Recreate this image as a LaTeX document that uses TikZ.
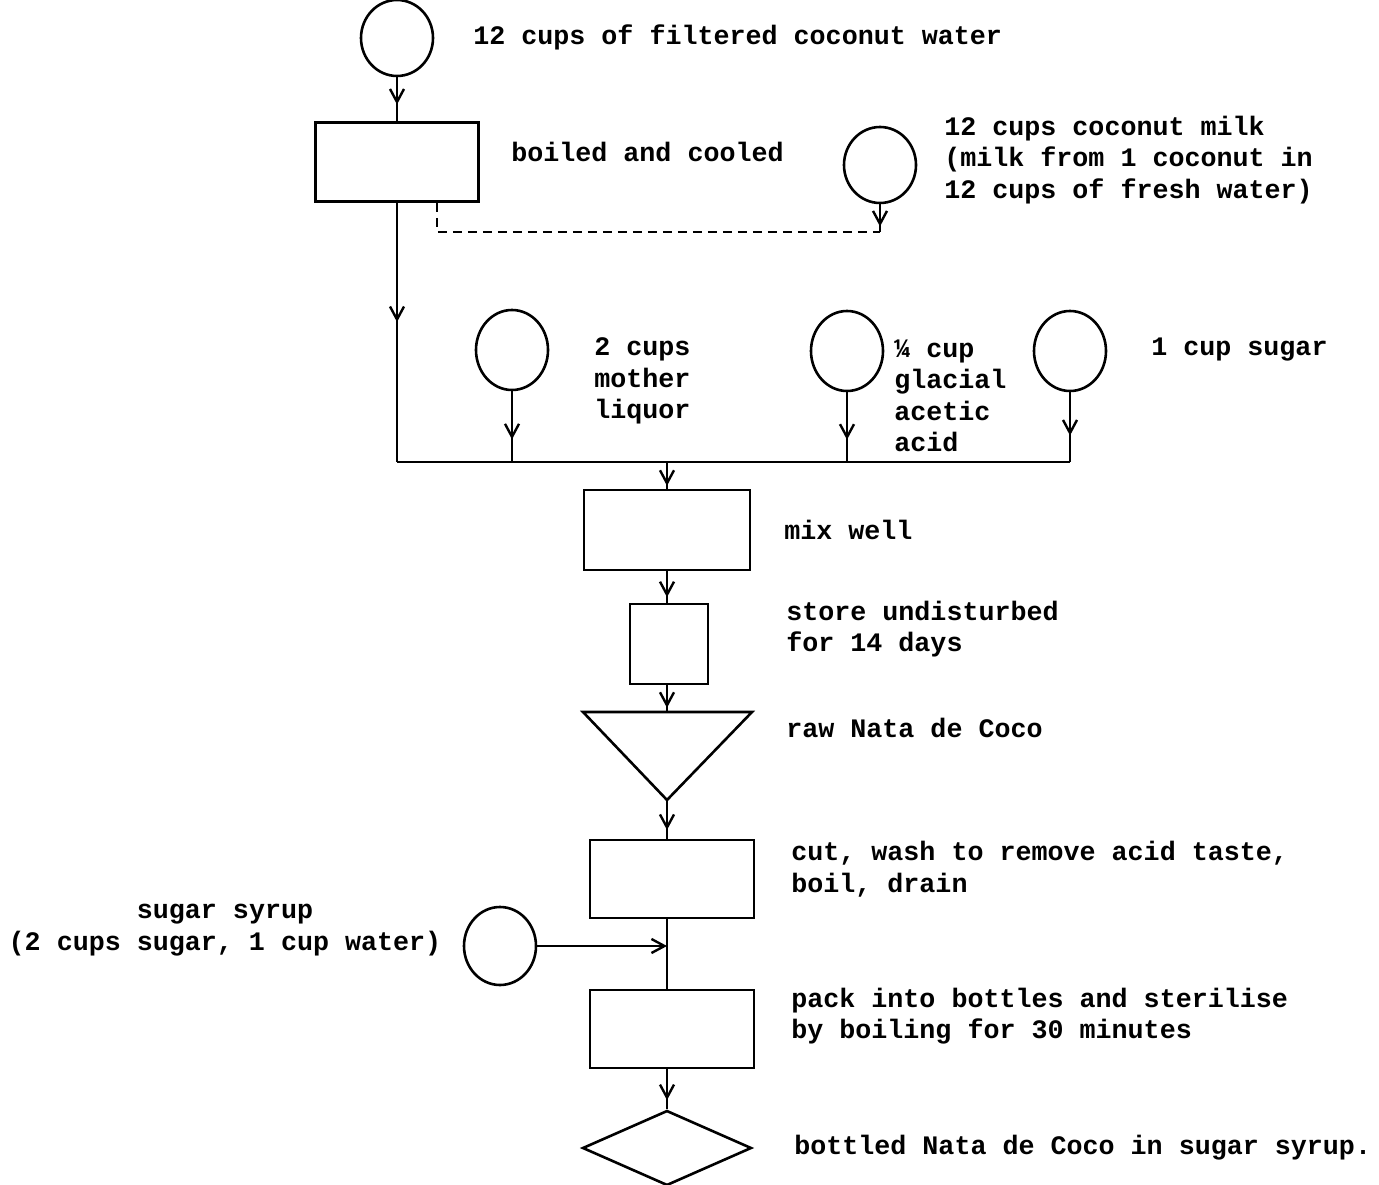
\documentclass[tikz,border=0pt]{standalone}
\usepackage{fontspec}
\setmainfont{Liberation Mono}
\usetikzlibrary{arrows.meta,shapes.geometric,decorations.markings}
\begin{document}
\begin{tikzpicture}[x=1pt,y=-1pt,line width=2.6pt,
  tipb/.tip={Straight Barb[length=13pt,width=14pt,line width=2.4pt]},
  midarr/.style={postaction={decorate},decoration={markings,mark=at position #1 with {\arrow{tipb}}}},
  procbox/.style={draw,rectangle,inner sep=0pt},
  src/.style={draw,ellipse,inner sep=0pt,minimum width=72pt,minimum height=76pt},
  lbl/.style={anchor=west,align=left,inner sep=0pt,font=\bfseries\fontsize{26.7}{31.5}\selectfont}]
\useasboundingbox (0,0) rectangle (1379,1185);
% sources and process nodes
\node[src] (c1) at (397,38) {};
\node[procbox,minimum width=163pt,minimum height=79pt] (b1) at (397,162) {};
\node[src] (c2) at (880,165) {};
\node[src,minimum height=80pt] (cm) at (512,350) {};
\node[src,minimum height=80pt] (ca) at (847,351) {};
\node[src,minimum height=80pt] (cs) at (1070,351) {};
\node[procbox,minimum width=166pt,minimum height=80pt] (mix) at (667,530) {};
\node[procbox,minimum width=78pt,minimum height=80pt] (st) at (669,644) {};
\coordinate (tt) at (667,712);
\coordinate (ta) at (667,800);
\draw[line join=miter] (583,712) -- (752,712) -- (ta) -- cycle;
\node[procbox,minimum width=164pt,minimum height=78pt] (b3) at (672,879) {};
\node[src,minimum height=78pt] (cy) at (500,946) {};
\node[procbox,minimum width=164pt,minimum height=78pt] (b4) at (672,1029) {};
\node[draw,diamond,inner sep=0pt,minimum width=169pt,minimum height=75pt] (dm) at (667,1148) {};
% junction coordinates
\coordinate (j0) at (397,462);
\coordinate (j1) at (cm |- j0);
\coordinate (j2) at (ca |- j0);
\coordinate (j3) at (cs |- j0);
\coordinate (jm) at (667,462);
\coordinate (mt) at (667,490);
\coordinate (mb) at (667,570);
\coordinate (stt) at (667,604);
\coordinate (stb) at (667,684);
\coordinate (b3t) at (667,840);
\coordinate (b3b) at (667,918);
\coordinate (b4t) at (667,990);
\coordinate (b4b) at (667,1068);
\coordinate (d1) at ([xshift=40pt]b1.south);
\coordinate (d2) at (880,232);
\coordinate (jy) at (667,946);
% connectors
\draw[midarr=0.62] (c1) -- (b1);
\draw[midarr=0.46] (b1) -- (j0);
\draw[dashed,line width=1.8pt,dash pattern=on 9pt off 6pt] (d1) |- (d2);
\draw[midarr=0.8] (c2) -- (d2);
\draw (j0) -- (j3);
\draw[midarr=0.68] (cm) -- (j1);
\draw[midarr=0.68] (ca) -- (j2);
\draw[midarr=0.62] (cs) -- (j3);
\draw[midarr=0.85] (jm) -- (mt);
\draw[midarr=0.8] (mb) -- (stt);
\draw[midarr=0.85] (stb) -- (tt);
\draw[midarr=0.75] (ta) -- (b3t);
\draw (b3b) -- (b4t);
\draw[-tipb] (cy) -- (jy);
\draw[midarr=0.78] (b4b) -- (dm);
% labels
\node[lbl] (t1) at (472,37) {12 cups of filtered coconut water};
\node[lbl] (t2) at (510,152) {boiled and cooled};
\node[lbl] (t3) at (943,160) {12 cups coconut milk\\(milk from 1 coconut in\\12 cups of fresh water)};
\node[lbl] (t4) at (593,381) {2 cups\\mother\\liquor};
\node[lbl] (t5) at (893,396) {¼ cup\\glacial\\acetic\\acid};
\node[lbl] (t6) at (1150,350) {1 cup sugar};
\node[lbl] (t7) at (783,530) {mix well};
\node[lbl] (t8) at (785,629) {store undisturbed\\for 14 days};
\node[lbl] (t9) at (785,728) {raw Nata de Coco};
\node[lbl] (t10) at (790,869) {cut, wash to remove acid taste,\\boil, drain};
\node[lbl,anchor=center,align=center] (t11) at (225,930) {sugar syrup\\(2 cups sugar, 1 cup water)};
\node[lbl] (t12) at (790,1016) {pack into bottles and sterilise\\by boiling for 30 minutes};
\node[lbl] (t13) at (793,1148) {bottled Nata de Coco in sugar syrup.};
\end{tikzpicture}
\end{document}
